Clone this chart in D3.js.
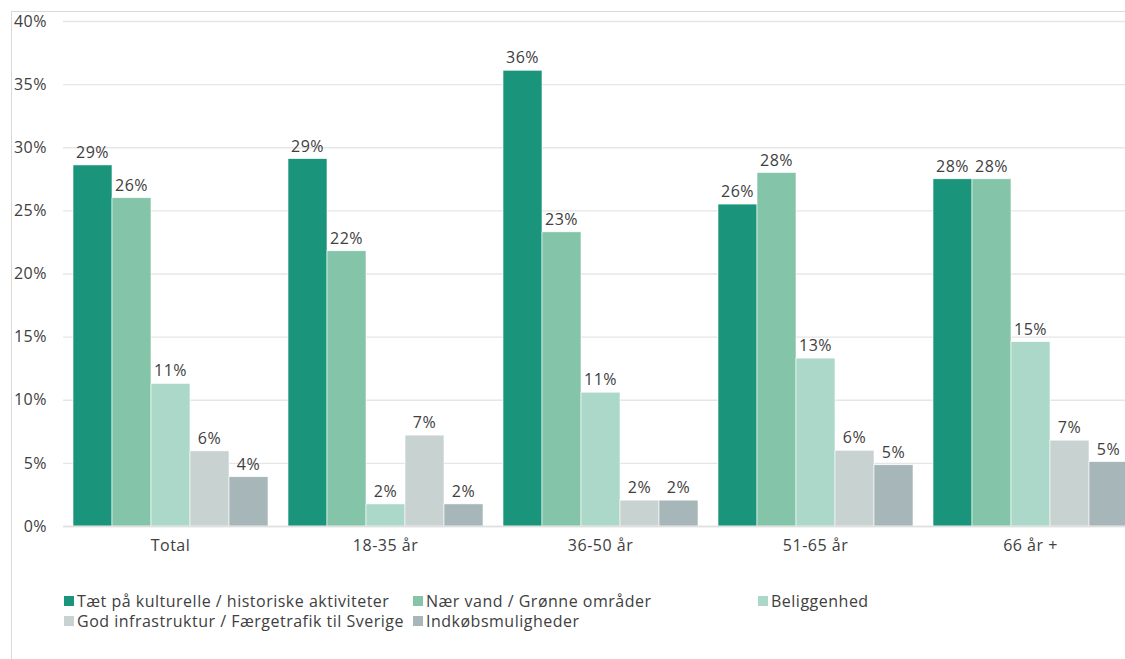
<!DOCTYPE html>
<html><head><meta charset="utf-8">
<script src="https://cdn.jsdelivr.net/npm/d3@7"></script>
<style>body{margin:0;background:#fff;} svg{display:block;font-family:"Open Sans","Noto Sans",sans-serif;} text{letter-spacing:0.5px;}</style>
</head><body>
<svg id="chart" width="1125" height="659"></svg>
<script>
const categories = ["Total","18-35 år","36-50 år","51-65 år","66 år +"];
const seriesNames = ["Tæt på kulturelle / historiske aktiviteter","Nær vand / Grønne områder","Beliggenhed","God infrastruktur / Færgetrafik til Sverige","Indkøbsmuligheder"];
const sKultur = [28.6, 29.1, 36.1, 25.5, 27.5];
const sVand   = [26.0, 21.8, 23.3, 28.0, 27.5];
const sBelig  = [11.3, 1.75, 10.6, 13.3, 14.6];
const sInfra  = [5.95, 7.2, 2.05, 6.0, 6.8];
const sIndk   = [3.9, 1.75, 2.05, 4.85, 5.1];
const seriesValues = [sKultur, sVand, sBelig, sInfra, sIndk];
const colors = ["#1a947b","#84c5a9","#acd8ca","#c8d2d0","#a6b6b9"];
const yTicks = [0,5,10,15,20,25,30,35,40];

const svg = d3.select("#chart");
const textColor = "#404040";
const fs = 16;

// frame
svg.append("rect").attr("x",11.5).attr("y",11.5).attr("width",1125).attr("height",700)
  .attr("fill","none").attr("stroke","#d9d9d9");

const x0 = d3.scaleBand().domain(categories).range([63, 63+5*215]).paddingInner(0).paddingOuter(0);
const x1 = d3.scaleBand().domain(d3.range(5)).range([10, 215-10]);
const y = d3.scaleLinear().domain([0,40]).range([526,21]);

// gridlines
svg.append("g").selectAll("line").data(yTicks).join("line")
  .attr("x1",63).attr("x2",1125).attr("y1",d=>y(d)+0.5).attr("y2",d=>y(d)+0.5)
  .attr("stroke","#e6e6e6").attr("stroke-width",1.3);

// y axis labels
const yAxis = d3.axisLeft(y).tickValues(yTicks).tickFormat(d=>d+"%").tickSize(0).tickPadding(0);
const gy = svg.append("g").attr("transform","translate(47,0)").call(yAxis);
gy.select(".domain").remove();
gy.selectAll("text").attr("font-size",fs).attr("fill",textColor).attr("font-family","'Open Sans','Noto Sans',sans-serif");

// bars
const groups = svg.append("g").selectAll("g").data(categories).join("g")
  .attr("transform",d=>`translate(${x0(d)},0)`);
groups.each(function(cat, ci){
  const g = d3.select(this);
  const data = seriesValues.map((s,si)=>({si, v:s[ci]}));
  g.selectAll("rect").data(data).join("rect")
    .attr("x",d=>x1(d.si)).attr("width",x1.bandwidth())
    .attr("y",d=>y(d.v)).attr("height",d=>y(0)-y(d.v))
    .attr("fill",d=>colors[d.si]).attr("stroke","#fff").attr("stroke-width",0.6);
  g.selectAll("text").data(data).join("text")
    .attr("x",d=>x1(d.si)+x1.bandwidth()/2).attr("y",d=>y(d.v)-7)
    .attr("text-anchor","middle").attr("font-size",fs).attr("fill",textColor)
    .text(d=>Math.round(d.v)+"%");
});

// x axis baseline
svg.append("line").attr("x1",63).attr("x2",1125).attr("y1",526.5).attr("y2",526.5).attr("stroke","#e0e0e0").attr("stroke-width",1.3);
const xAxis = d3.axisBottom(x0).tickSize(0).tickPadding(0);
const gx = svg.append("g").attr("transform","translate(0,540)").call(xAxis);
gx.select(".domain").remove();
gx.selectAll("text").attr("font-size",fs).attr("fill",textColor).attr("dy","0.71em").attr("font-family","'Open Sans','Noto Sans',sans-serif");

// legend
const legendPos = [[64,601],[413,601],[758,601],[64,621],[413,621]];
const lg = svg.append("g").selectAll("g").data(seriesNames).join("g")
  .attr("transform",(d,i)=>`translate(${legendPos[i][0]},${legendPos[i][1]})`);
lg.append("rect").attr("x",0).attr("y",-5).attr("width",10).attr("height",10).attr("fill",(d,i)=>colors[i]);
lg.append("text").attr("x",13).attr("y",0).attr("dy","0.35em").attr("font-size",fs).attr("fill",textColor).text(d=>d);
</script>
</body></html>
